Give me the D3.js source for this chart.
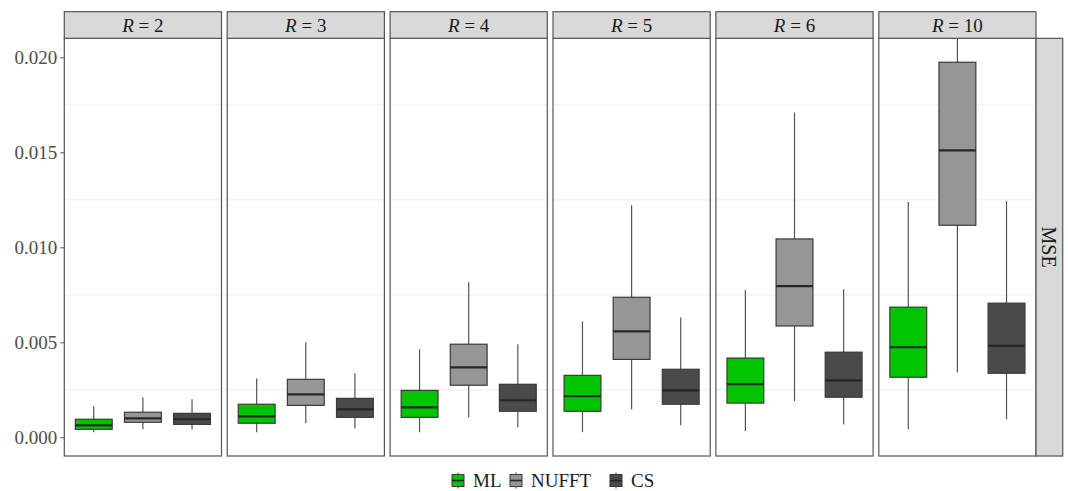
<!DOCTYPE html>
<html>
<head>
<meta charset="utf-8">
<script src="https://cdn.jsdelivr.net/npm/d3@7"></script>
<style>
    body { margin: 0; background: white; }
    text { font-family: "Liberation Serif", "DejaVu Serif", serif; }
</style>
</head>
<body>
<svg width="1068" height="491"></svg>
<script>
    //panel labels (R values) and the three methods
    var rValues = ["2", "3", "4", "5", "6", "10"];
    var methods = ["ML", "NUFFT", "CS"];
    var methodColors = ["#00c400", "#969696", "#4a4a4a"];

    //box stats per R: [lower whisker, q1, median, q3, upper whisker]
    var mlStats = [
        [0.00026, 0.00042, 0.00063, 0.00095, 0.00163],
        [0.00026, 0.00074, 0.00110, 0.00174, 0.00310],
        [0.00026, 0.00105, 0.00158, 0.00247, 0.00463],
        [0.00026, 0.00137, 0.00216, 0.00326, 0.00610],
        [0.00033, 0.00180, 0.00280, 0.00417, 0.00775],
        [0.00042, 0.00316, 0.00474, 0.00685, 0.01238]
    ];
    var nufftStats = [
        [0.00042, 0.00079, 0.00100, 0.00132, 0.00210],
        [0.00074, 0.00168, 0.00226, 0.00305, 0.00500],
        [0.00105, 0.00274, 0.00368, 0.00490, 0.00816],
        [0.00147, 0.00410, 0.00558, 0.00737, 0.01221],
        [0.00191, 0.00586, 0.00796, 0.01044, 0.01710],
        [0.00342, 0.01116, 0.01510, 0.01974, 0.02250]
    ];
    var csStats = [
        [0.00042, 0.00068, 0.00095, 0.00126, 0.00200],
        [0.00047, 0.00105, 0.00147, 0.00205, 0.00337],
        [0.00053, 0.00137, 0.00195, 0.00279, 0.00490],
        [0.00063, 0.00174, 0.00247, 0.00358, 0.00630],
        [0.00068, 0.00211, 0.00300, 0.00448, 0.00779],
        [0.00095, 0.00337, 0.00481, 0.00706, 0.01243]
    ];
    var yTicks = [0, 0.005, 0.010, 0.015, 0.020];
    var yMinorGrid = [0.0025, 0.0075, 0.0125, 0.0175];

    var allStats = [mlStats, nufftStats, csStats];

    var svg = d3.select("svg");
    var plotTop = 38.3, plotBottom = 456, stripTop = 11.7;

    //panels across the page
    var panelScale = d3.scaleBand().domain(rValues).range([64.3, 1036]).paddingInner(0.035);
    var ys = d3.scaleLinear().domain([-0.000984, 0.0210]).range([plotBottom, plotTop]);

    svg.append("defs").append("clipPath").attr("id", "panelclip")
        .append("rect").attr("x", 0).attr("y", plotTop).attr("width", panelScale.bandwidth()).attr("height", plotBottom - plotTop);

    rValues.forEach(function(r, pi) {
        var px = panelScale(r);
        var w = panelScale.bandwidth();
        var xs = d3.scaleLinear().domain([0.4, 3.6]).range([0, w]);
        var g = svg.append("g").attr("transform", "translate(" + px + ",0)");

        //faint grid lines
        g.selectAll(".grid").data(yMinorGrid).enter().append("line")
            .attr("x1", 0).attr("x2", w)
            .attr("y1", function(d) { return ys(d); })
            .attr("y2", function(d) { return ys(d); })
            .style("stroke", "#f0f0f0").style("stroke-width", 1.2);

        //boxes
        var boxes = g.append("g").attr("clip-path", "url(#panelclip)");
        methods.forEach(function(m, mi) {
            var s = allStats[mi][pi];
            var cx = xs(mi + 1);
            var bw = xs(0.75) - xs(0);
            boxes.append("line")
                .attr("x1", cx).attr("x2", cx)
                .attr("y1", ys(s[0])).attr("y2", ys(s[4]))
                .style("stroke", "#555").style("stroke-width", 1.2);
            boxes.append("rect")
                .attr("x", cx - bw / 2).attr("width", bw)
                .attr("y", ys(s[3])).attr("height", ys(s[1]) - ys(s[3]))
                .style("fill", methodColors[mi]).style("stroke", "#3a3a3a").style("stroke-width", 1.2);
            boxes.append("line")
                .attr("x1", cx - bw / 2).attr("x2", cx + bw / 2)
                .attr("y1", ys(s[2])).attr("y2", ys(s[2]))
                .style("stroke", "#262626").style("stroke-width", 2.2);
        });

        //panel border
        g.append("rect").attr("x", 0).attr("y", plotTop).attr("width", w).attr("height", plotBottom - plotTop)
            .style("fill", "none").style("stroke", "#555").style("stroke-width", 1.2);

        //strip on top
        g.append("rect").attr("x", 0).attr("y", stripTop).attr("width", w).attr("height", plotTop - stripTop)
            .style("fill", "#d9d9d9").style("stroke", "#555").style("stroke-width", 1.2);
        var st = g.append("text").attr("x", w / 2).attr("y", 31.5)
            .attr("text-anchor", "middle").style("font-size", "19px").style("fill", "#1a1a1a");
        st.append("tspan").style("font-style", "italic").text("R");
        st.append("tspan").text(" = " + r);
    });

    //right strip with MSE
    var lastRight = panelScale(rValues[rValues.length - 1]) + panelScale.bandwidth();
    svg.append("rect").attr("x", lastRight).attr("y", plotTop).attr("width", 26.7).attr("height", plotBottom - plotTop)
        .style("fill", "#d9d9d9").style("stroke", "#555").style("stroke-width", 1.2);
    svg.append("text")
        .attr("transform", "translate(" + (lastRight + 13.3) + "," + ((plotTop + plotBottom) / 2) + ") rotate(90)")
        .attr("text-anchor", "middle").attr("dy", "0.35em")
        .style("font-size", "20px").style("fill", "#1a1a1a")
        .text("MSE");

    //y axis
    var yAxis = svg.append("g").attr("transform", "translate(" + panelScale(rValues[0]) + ",0)")
        .call(d3.axisLeft(ys).tickValues(yTicks).tickFormat(d3.format(".3f")).tickSize(4).tickPadding(3))
        .attr("font-family", "Liberation Serif").attr("font-size", 19);
    yAxis.select(".domain").remove();
    yAxis.selectAll("line").style("stroke", "#555");
    yAxis.selectAll("text").style("fill", "#4d4d4d");

    //legend at the bottom
    var legendX = [452, 510, 610];
    var legY = 480.5;
    var leg = svg.append("g");
    methods.forEach(function(m, mi) {
        var kx = legendX[mi];
        leg.append("line").attr("x1", kx + 6).attr("x2", kx + 6).attr("y1", legY - 8).attr("y2", legY + 8)
            .style("stroke", "#555").style("stroke-width", 1.2);
        leg.append("rect").attr("x", kx).attr("y", legY - 6).attr("width", 12).attr("height", 12)
            .style("fill", methodColors[mi]).style("stroke", "#3a3a3a").style("stroke-width", 1);
        leg.append("line").attr("x1", kx).attr("x2", kx + 12).attr("y1", legY).attr("y2", legY)
            .style("stroke", "#262626").style("stroke-width", 1.6);
        leg.append("text").attr("x", kx + 21).attr("y", legY).attr("dy", "0.35em")
            .style("font-size", "19px").style("fill", "#1a1a1a").text(m);
    });
</script>
</body>
</html>
